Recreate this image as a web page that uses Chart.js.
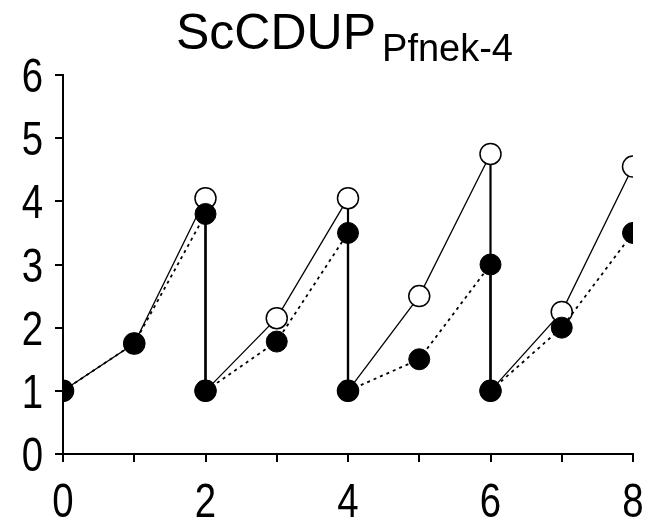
<!DOCTYPE html>
<html>
<head>
<meta charset="utf-8">
<script src="https://cdn.jsdelivr.net/npm/chart.js@4"></script>
<style>
    body { margin: 0; background: #fff; }
    #wrap { position: relative; width: 655px; height: 524px; }
    #title {
        position: absolute; left: 176px; top: 7px;
        font-family: "Liberation Sans", Arial, sans-serif;
        font-size: 50px; line-height: 1; color: #000; white-space: nowrap;
    }
    #title sub { font-size: 38px; vertical-align: -12px; margin-left: 6px; }
</style>
</head>
<body>
<div id="wrap">
    <canvas id="chart" width="655" height="524"></canvas>
    <div id="title">ScCDUP<sub>Pfnek-4</sub></div>
</div>
<script>
// --- Data ---
const xValues = [0, 1, 2, 2, 3, 4, 4, 5, 6, 6, 7, 8];
const openValues = [1, 1.75, 4.05, 1, 2.15, 4.05, 1, 2.5, 4.75, 1, 2.25, 4.55];
const filledValues = [1, 1.75, 3.8, 1, 1.78, 3.5, 1, 1.5, 3, 1, 2, 3.5];
const xTickLabels = ['0', '', '2', '', '4', '', '6', '', '8'];
const yTickLabels = ['0', '1', '2', '3', '4', '5', '6'];

const FONT = '48px "Liberation Sans", Arial, sans-serif';
const SQUEEZE = 0.8; // tick labels in the reference are a narrow face

function toPoints(ys) {
    return xValues.map((x, i) => ({ x, y: ys[i] }));
}

const isVertical = ctx => ctx.p0.parsed.x === ctx.p1.parsed.x;

// draws tick labels squeezed horizontally (no narrow font installed)
const narrowTickLabels = {
    id: 'narrowTickLabels',
    afterDraw(chart) {
        const { ctx, scales: { x, y } } = chart;
        ctx.save();
        ctx.font = FONT;
        ctx.fillStyle = '#000';
        ctx.textBaseline = 'alphabetic';

        ctx.textAlign = 'center';
        xTickLabels.forEach((t, i) => {
            if (!t) return;
            ctx.save();
            ctx.translate(x.getPixelForValue(i), x.bottom - 7);
            ctx.scale(SQUEEZE, 1);
            ctx.fillText(t, 0, 0);
            ctx.restore();
        });

        ctx.textAlign = 'right';
        yTickLabels.forEach((t, i) => {
            ctx.save();
            ctx.translate(y.left + 43, y.getPixelForValue(i) + 17);
            ctx.scale(SQUEEZE, 1);
            ctx.fillText(t, 0, 0);
            ctx.restore();
        });
        ctx.restore();
    }
};

new Chart(document.getElementById('chart'), {
    type: 'line',
    data: {
        datasets: [
            {
                label: 'open',
                data: toPoints(openValues),
                borderColor: '#000',
                borderWidth: 1.3,
                pointRadius: 10.5,
                pointBorderWidth: 1.5,
                pointBackgroundColor: '#fff',
                pointBorderColor: '#000',
                segment: {
                    borderWidth: ctx => isVertical(ctx) ? 2.2 : 1.3
                },
                order: 2
            },
            {
                label: 'filled',
                data: toPoints(filledValues),
                borderColor: '#000',
                borderWidth: 1.5,
                pointRadius: 10.5,
                pointBorderWidth: 1,
                pointBackgroundColor: '#000',
                pointBorderColor: '#000',
                segment: {
                    borderDash: ctx => isVertical(ctx) ? [] : [3, 4],
                    borderWidth: ctx => isVertical(ctx) ? 2.2 : 1.8
                },
                order: 1
            }
        ]
    },
    plugins: [narrowTickLabels],
    options: {
        responsive: false,
        animation: false,
        layout: { padding: { top: 75, right: 22, left: 0, bottom: 0 } },
        plugins: { legend: { display: false }, tooltip: { enabled: false } },
        scales: {
            x: {
                type: 'linear',
                min: 0,
                max: 8,
                afterFit: s => { s.height = 70; },
                ticks: { stepSize: 1, display: false },
                grid: { drawOnChartArea: false, drawTicks: true, tickLength: 8, color: '#000', lineWidth: 2 },
                border: { display: true, color: '#000', width: 2 }
            },
            y: {
                min: 0,
                max: 6,
                afterFit: s => { s.width = 63; },
                ticks: { stepSize: 1, display: false },
                grid: { drawOnChartArea: false, drawTicks: true, tickLength: 8, color: '#000', lineWidth: 2 },
                border: { display: true, color: '#000', width: 2 }
            }
        }
    }
});
</script>
</body>
</html>
